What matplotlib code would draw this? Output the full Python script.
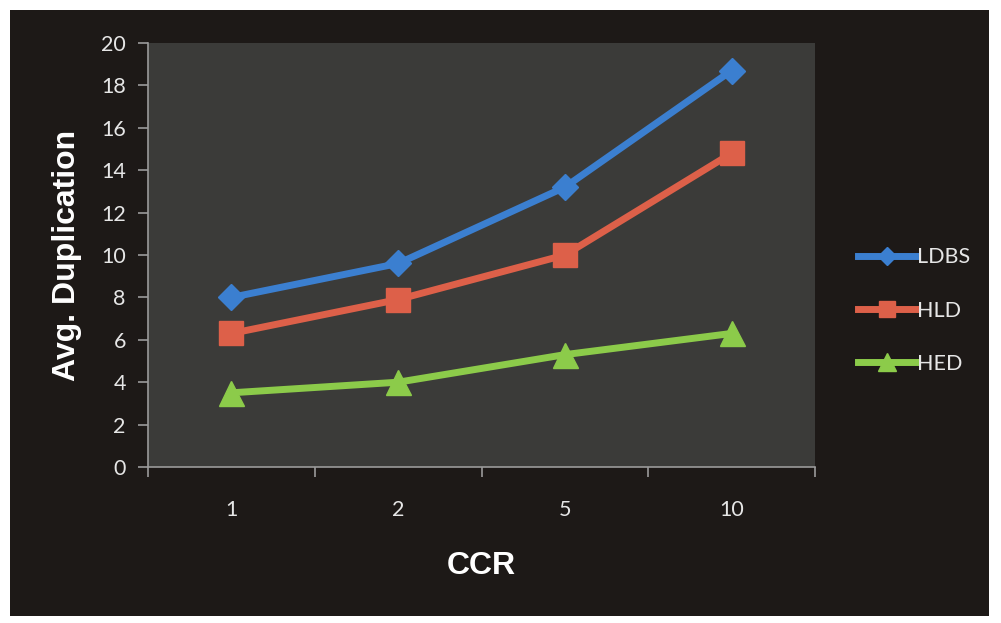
import matplotlib.pyplot as plt
from matplotlib.patches import Rectangle

ccr = ['1', '2', '5', '10']
ldbs = [8.0, 9.6, 13.2, 18.7]
hld = [6.3, 7.9, 10.0, 14.8]
hed = [3.5, 4.0, 5.3, 6.3]
yticks = [0, 2, 4, 6, 8, 10, 12, 14, 16, 18, 20]

txt = '#e6e6e6'
fig = plt.figure(figsize=(10.01, 6.23), dpi=100, facecolor='white')
# dark chart background (scanned slide)
fig.patches.append(Rectangle((0.01, 0.012), 0.978, 0.972, transform=fig.transFigure,
                             facecolor='#1d1917', edgecolor='none', zorder=-10))

ax = fig.add_axes([0.1479, 0.2504, 0.6663, 0.6806])
ax.set_facecolor('#3b3b39')

x = range(len(ccr))
ax.plot(x, ldbs, color='#3b7fd0', lw=5, marker='D', ms=13, mec='#3b7fd0', label='LDBS')
ax.plot(x, hld, color='#dd6049', lw=5, marker='s', ms=17, mec='#dd6049', label='HLD')
ax.plot(x, hed, color='#8ccb4a', lw=5, marker='^', ms=18, mec='#8ccb4a', label='HED')

ax.set_xlim(-0.5, len(ccr) - 0.5)
ax.set_ylim(0, 20)
ax.set_yticks(yticks)
ax.set_xticks(list(x))
ax.set_xticklabels(ccr)
ax.set_xticks([i - 0.5 for i in range(len(ccr) + 1)], minor=True)

for s in ['top', 'right']:
    ax.spines[s].set_visible(False)
for s in ['left', 'bottom']:
    ax.spines[s].set_color('#9a9a9a')
    ax.spines[s].set_linewidth(1.2)

ax.tick_params(axis='y', colors='#9a9a9a', length=7, width=1.2, pad=9,
               labelcolor=txt, labelsize=15.5)
ax.tick_params(axis='x', which='major', length=0, pad=24, labelcolor=txt, labelsize=15.5)
ax.tick_params(axis='x', which='minor', colors='#9a9a9a', length=7, width=1.2)
for lab in ax.get_xticklabels() + ax.get_yticklabels():
    lab.set_family('Lato')

ax.set_ylabel('Avg. Duplication', fontsize=23, fontweight='bold', color='white',
              family='Liberation Sans', labelpad=14)
ax.set_xlabel('CCR', fontsize=23, fontweight='bold', color='white',
              family='Liberation Sans', labelpad=22)

leg = ax.legend(loc='center left', bbox_to_anchor=(1.035, 0.369), frameon=False,
                handlelength=2.7, handletextpad=0.05, labelspacing=1.55, markerscale=0.7,
                prop={'family': 'Lato', 'size': 15.5})
for t in leg.get_texts():
    t.set_color(txt)

fig.savefig('out.png', dpi=100, facecolor=fig.get_facecolor())
